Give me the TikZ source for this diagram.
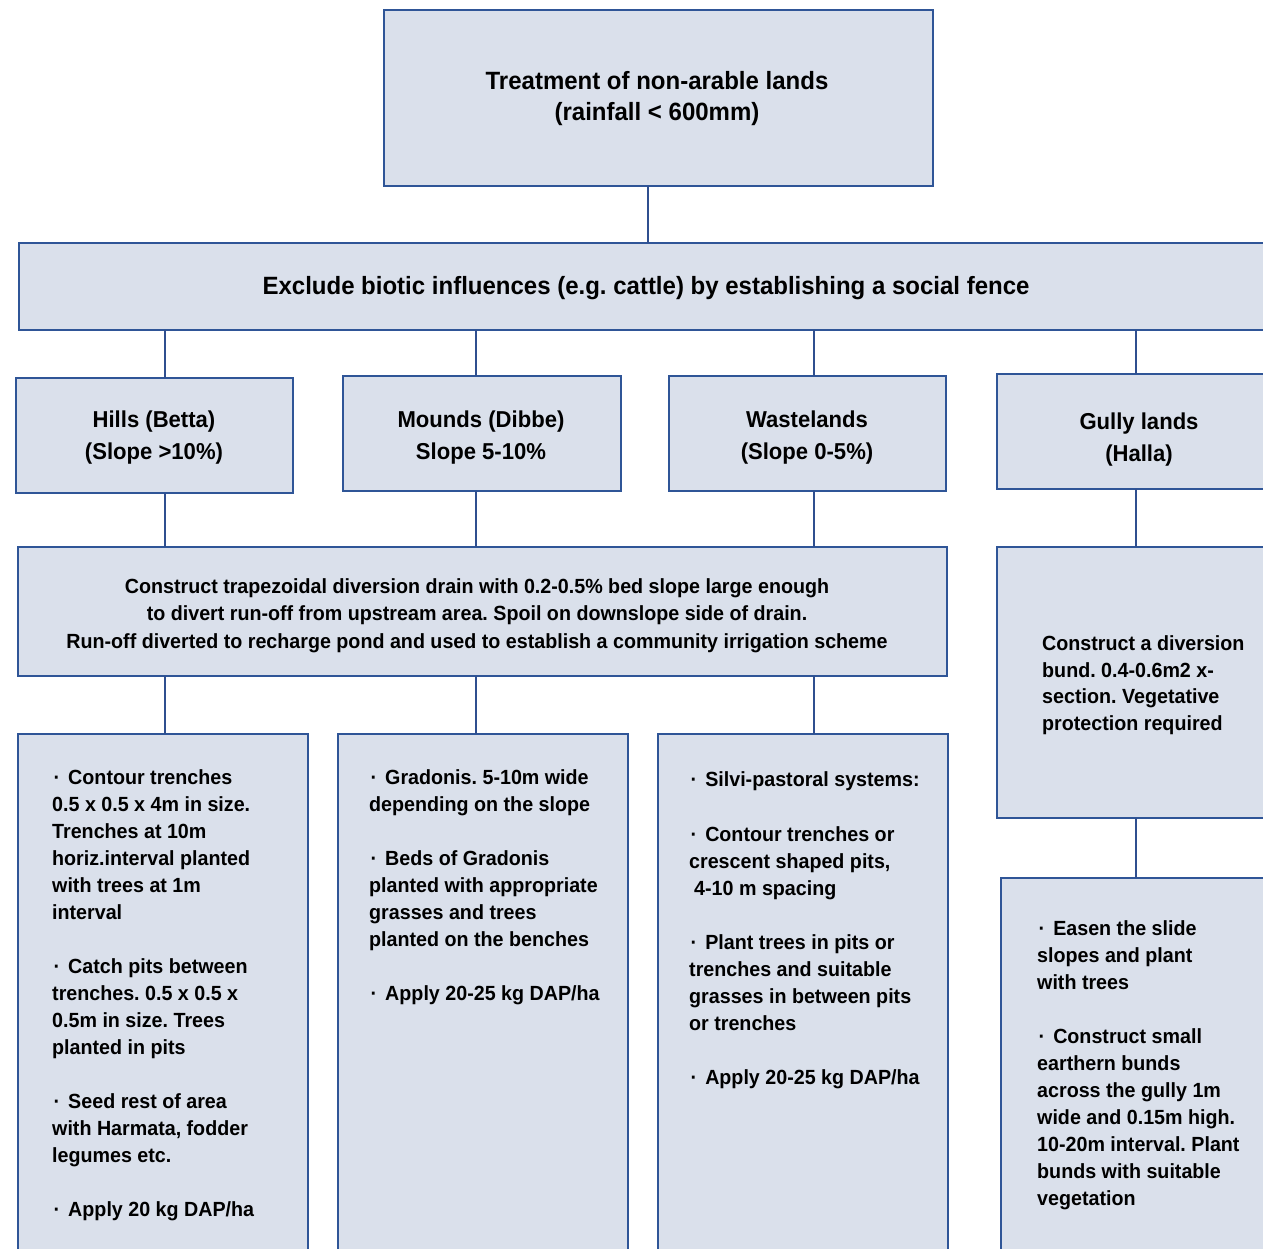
\documentclass[tikz,border=0pt]{standalone}
\usepackage{fontspec}
\setmainfont{Liberation Sans}[FakeStretch=0.96]
\definecolor{boxfill}{RGB}{218,224,235}
\definecolor{boxline}{RGB}{47,85,151}
\definecolor{linkblue}{RGB}{47,79,143}
% bullet used in the activity lists
\newcommand\dotitem{\hspace*{1.5pt}·\hspace{8pt}}
\frenchspacing
\begin{document}
\begin{tikzpicture}[x=1pt,y=-1pt,
  box/.style={draw=boxline, fill=boxfill, line width=1.4pt, inner sep=0pt, outer sep=0pt, anchor=north west},
  link/.style={draw=linkblue, line width=1.3pt},
  txt/.style={inner sep=0pt, text=black, font=\bfseries},
  headtxt/.style={txt, align=center, anchor=north, font=\bfseries\fontsize{25}{31}\selectfont},
  landtxt/.style={txt, align=center, anchor=north, font=\bfseries\fontsize{23}{32}\selectfont},
  midtxt/.style={txt, align=center, anchor=north, font=\bfseries\fontsize{20.5}{27.5}\selectfont},
  listtxt/.style={txt, align=left, anchor=north west, font=\bfseries\fontsize{20.5}{27}\selectfont},
]
\useasboundingbox (0,0) rectangle (1263,1249);

% boxes
\node[box, minimum width=549pt, minimum height=176pt] (top)   at (384,10)  {};
\node[box, minimum width=1254pt, minimum height=87pt] (band)  at (19,243)  {};
\node[box, minimum width=277pt, minimum height=115pt] (hills) at (16,378)  {};
\node[box, minimum width=278pt, minimum height=115pt] (mounds) at (343,376) {};
\node[box, minimum width=277pt, minimum height=115pt] (waste) at (669,376) {};
\node[box, minimum width=284pt, minimum height=115pt] (gully) at (997,374) {};
\node[box, minimum width=929pt, minimum height=129pt] (drain) at (18,547)  {};
\node[box, minimum width=284pt, minimum height=271pt] (bund)  at (997,547) {};
\node[box, minimum width=290pt, minimum height=530pt] (hillsact)  at (18,734)  {};
\node[box, minimum width=290pt, minimum height=530pt] (moundsact) at (338,734) {};
\node[box, minimum width=290pt, minimum height=530pt] (wasteact)  at (658,734) {};
\node[box, minimum width=280pt, minimum height=400pt] (gullyact)  at (1001,878) {};

% connector columns
\coordinate (k0) at (648,0);
\coordinate (k1) at (165,0);
\coordinate (k2) at (476,0);
\coordinate (k3) at (814,0);
\coordinate (k4) at (1136,0);

\draw[link] (top.south -| k0) -- (band.north -| k0);
\draw[link] (band.south -| k1) -- (hills.north -| k1);
\draw[link] (band.south -| k2) -- (mounds.north -| k2);
\draw[link] (band.south -| k3) -- (waste.north -| k3);
\draw[link] (band.south -| k4) -- (gully.north -| k4);
\draw[link] (hills.south -| k1) -- (drain.north -| k1);
\draw[link] (mounds.south -| k2) -- (drain.north -| k2);
\draw[link] (waste.south -| k3) -- (drain.north -| k3);
\draw[link] (gully.south -| k4) -- (bund.north -| k4);
\draw[link] (drain.south -| k1) -- (hillsact.north -| k1);
\draw[link] (drain.south -| k2) -- (moundsact.north -| k2);
\draw[link] (drain.south -| k3) -- (wasteact.north -| k3);
\draw[link] (bund.south -| k4) -- (gullyact.north -| k4);

% texts
\node[headtxt] (top-t) at (657,70.7) {Treatment of non-arable lands\\(rainfall < 600mm)};
\node[headtxt] (band-t) at (646,275.7) {Exclude biotic influences (e.g. cattle) by establishing a social fence};
\node[landtxt] (hills-t) at (154,410.5) {Hills (Betta)\\(Slope >10\%)};
\node[landtxt] (mounds-t) at (481,410.5) {Mounds (Dibbe)\\Slope 5-10\%};
\node[landtxt] (waste-t) at (807,410.5) {Wastelands\\(Slope 0-5\%)};
\node[landtxt] (gully-t) at (1139,412.5) {Gully lands\\(Halla)};
\node[midtxt] (drain-t) at (477,578.4) {Construct trapezoidal diversion drain with 0.2-0.5\% bed slope large enough\\
to divert run-off from upstream area. Spoil on downslope side of drain.\\
Run-off diverted to recharge pond and used to establish a community irrigation scheme};
\node[listtxt, font=\bfseries\fontsize{20.5}{26.7}\selectfont] (bund-t) at (1042,635.4) {Construct a diversion\\
bund. 0.4-0.6m2 x-\\
section. Vegetative\\
protection required};

\node[listtxt] (hillsact-t) at (52,769.4) {\dotitem Contour trenches\\
0.5 x 0.5 x 4m in size.\\
Trenches at 10m\\
horiz.interval planted\\
with trees at 1m\\
interval\\[27pt]
\dotitem Catch pits between\\
trenches. 0.5 x 0.5 x\\
0.5m in size. Trees\\
planted in pits\\[27pt]
\dotitem Seed rest of area\\
with Harmata, fodder\\
legumes etc.\\[27pt]
\dotitem Apply 20 kg DAP/ha};

\node[listtxt] (moundsact-t) at (369,769.4) {\dotitem Gradonis. 5-10m wide\\
depending on the slope\\[27pt]
\dotitem Beds of Gradonis\\
planted with appropriate\\
grasses and trees\\
planted on the benches\\[27pt]
\dotitem Apply 20-25 kg DAP/ha};

\node[listtxt] (wasteact-t) at (689,771.4) {\dotitem Silvi-pastoral systems:\\[28pt]
\dotitem Contour trenches or\\
crescent shaped pits,\\
\hspace*{5pt}4-10 m spacing\\[27pt]
\dotitem Plant trees in pits or\\
trenches and suitable\\
grasses in between pits\\
or trenches\\[27pt]
\dotitem Apply 20-25 kg DAP/ha};

\node[listtxt] (gullyact-t) at (1037,920.4) {\dotitem Easen the slide\\
slopes and plant\\
with trees\\[27pt]
\dotitem Construct small\\
earthern bunds\\
across the gully 1m\\
wide and 0.15m high.\\
10-20m interval. Plant\\
bunds with suitable\\
vegetation};
\end{tikzpicture}
\end{document}
